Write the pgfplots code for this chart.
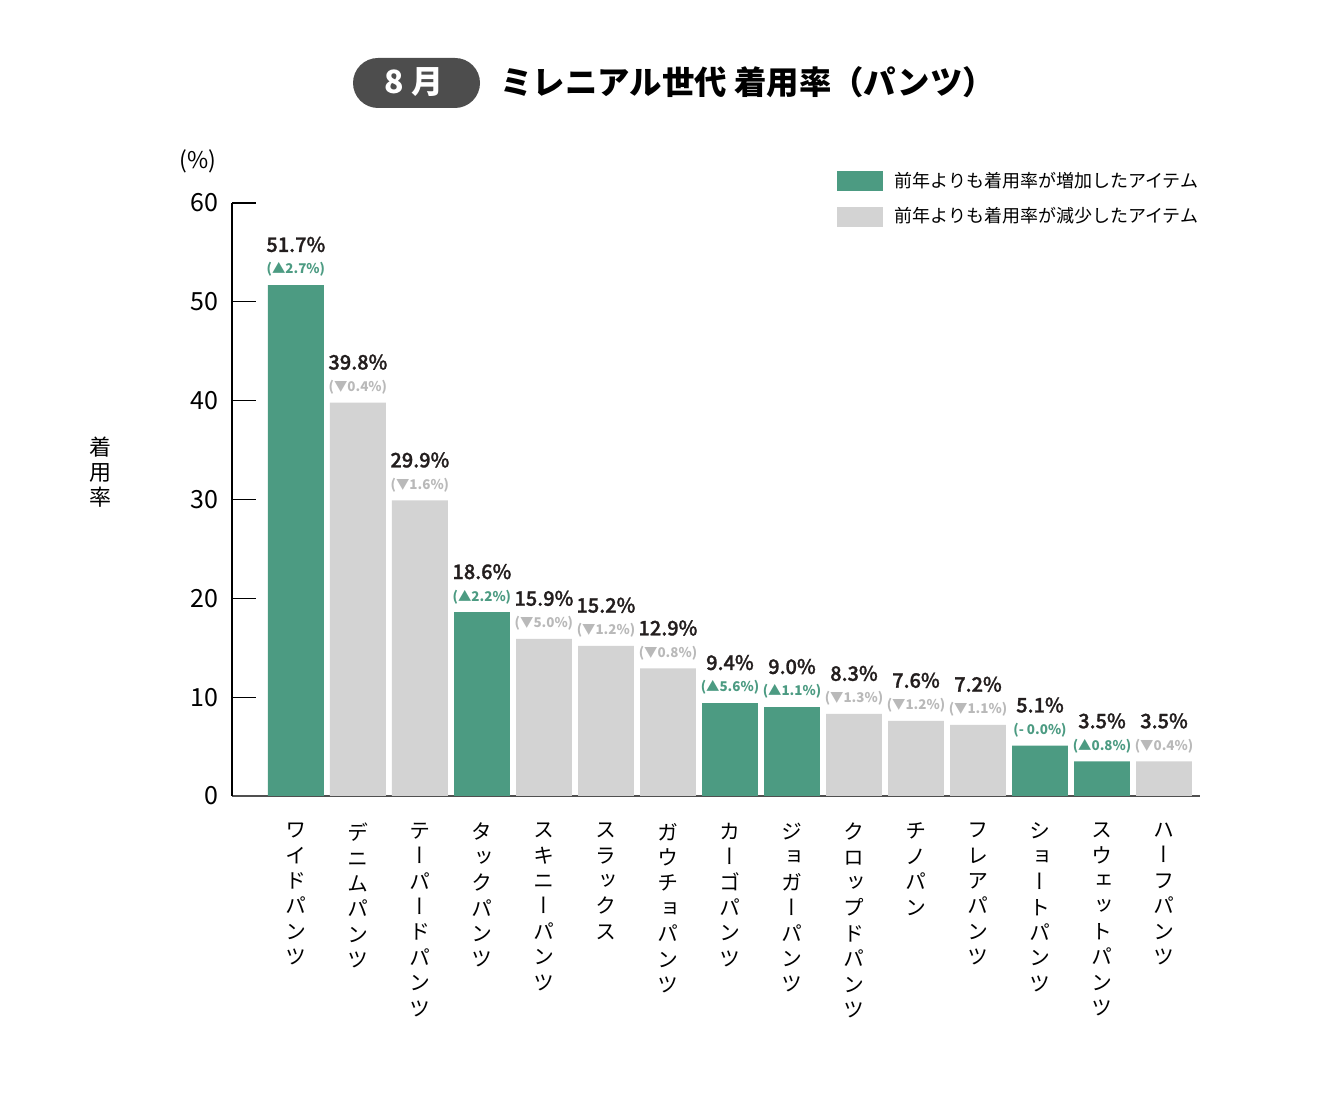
\documentclass[border=0pt]{standalone}
\usepackage{pgfplots}
\pgfplotsset{compat=1.18}
\usepackage{fontspec}
\setmainfont{Noto Sans CJK JP}
\newfontfamily\med[FakeBold=1.3]{Noto Sans CJK JP Medium}
\newfontfamily\vjp[RawFeature=+vert]{Noto Sans CJK JP}
\definecolor{grn}{RGB}{76,155,130}
\definecolor{gry}{RGB}{211,211,211}
\definecolor{gtxt}{RGB}{185,185,185}
\definecolor{titlebox}{RGB}{77,77,77}
\begin{document}
\begin{tikzpicture}
\path[use as bounding box] (0,0) rectangle (664pt,555.5pt);
% title
\fill[titlebox,rounded corners=12.5pt] (176.5pt,501.5pt) rectangle (240pt,526.5pt);
\node[text=white,font=\fontsize{16}{18}\bfseries\selectfont] at (207pt,514.5pt) {8 月};
\node[anchor=west,inner sep=0pt,font=\fontsize{16.2}{18}\bfseries\selectfont] at (250pt,514.5pt) {ミレニアル世代 着用率（パンツ）};
% y label
\node[align=center,font=\fontsize{11}{12.5}\selectfont] at (50pt,319.5pt) {着\\用\\率};
\node[font=\fontsize{11.5}{14}\selectfont] at (99pt,475pt) {(\%)};
\begin{axis}[
  at={(116pt,157.5pt)}, anchor=south west,
  scale only axis, width=484pt, height=296.5pt,
  xmin=-1.03, xmax=14.58, ymin=0, ymax=60,
  axis x line*=bottom, axis y line*=left,
  axis line style={-},
  x axis line style={draw={rgb,255:red,80;green,80;blue,80}, line width=0.8pt},
  y axis line style={draw=black, line width=0.6pt},
  ytick={0,10,...,60},
  tick align=inside,
  major tick length=12pt,
  ytick style={draw=black, line width=0.6pt},
  xtick style={draw=none},
  /pgf/number format/assume math mode=true,
  yticklabel style={font=\fontsize{12.5}{14}\selectfont, xshift=-3.5pt},
  xtick={0,...,14},
  xticklabels={
    {ワ\\イ\\ド\\パ\\ン\\ツ},
    {デ\\ニ\\ム\\パ\\ン\\ツ},
    {テ\\ー\\パ\\ー\\ド\\パ\\ン\\ツ},
    {タ\\ッ\\ク\\パ\\ン\\ツ},
    {ス\\キ\\ニ\\ー\\パ\\ン\\ツ},
    {ス\\ラ\\ッ\\ク\\ス},
    {ガ\\ウ\\チ\\ョ\\パ\\ン\\ツ},
    {カ\\ー\\ゴ\\パ\\ン\\ツ},
    {ジ\\ョ\\ガ\\ー\\パ\\ン\\ツ},
    {ク\\ロ\\ッ\\プ\\ド\\パ\\ン\\ツ},
    {チ\\ノ\\パ\\ン},
    {フ\\レ\\ア\\パ\\ン\\ツ},
    {シ\\ョ\\ー\\ト\\パ\\ン\\ツ},
    {ス\\ウ\\ェ\\ッ\\ト\\パ\\ン\\ツ},
    {ハ\\ー\\フ\\パ\\ン\\ツ}},
  xticklabel style={align=center, anchor=north, yshift=2pt,
    font=\vjp\fontsize{10.5}{12.7}\selectfont},
  ybar, bar width=0.9, bar shift=0pt,
  point meta=explicit symbolic,
  visualization depends on={rawy \as \rawy},
  nodes near coords align={vertical},
  legend style={at={(1.009,1.066)}, anchor=north east, draw=none, fill=none,
    font=\fontsize{9}{10}\selectfont, row sep=4.5pt,
    /tikz/every odd column/.append style={column sep=3.5pt}},
  legend cell align=left,
  legend image code/.code={\fill[#1] (0pt,-5pt) rectangle (23pt,5pt);},
]
\addplot[fill=grn, draw=none,
  nodes near coords={\fontsize{10}{12}\med\selectfont\pgfmathprintnumber[fixed,fixed zerofill,precision=1,assume math mode=true]{\rawy}\%\\[-1pt]{\fontsize{6.7}{8}\bfseries\selectfont\color{grn}(\pgfplotspointmeta\%)}},
  every node near coord/.append style={align=center, anchor=south, yshift=3pt, text={rgb,255:red,35;green,30;blue,30}, inner sep=1pt}]
coordinates {
(0,51.7) [▲2.7]
(3,18.6) [▲2.2]
(7,9.4) [▲5.6]
(8,9.0) [▲1.1]
(12,5.1) [- 0.0]
(13,3.5) [▲0.8]
};
\addlegendentry{前年よりも着用率が増加したアイテム}
\addplot[fill=gry, draw=none,
  nodes near coords={\fontsize{10}{12}\med\selectfont\pgfmathprintnumber[fixed,fixed zerofill,precision=1,assume math mode=true]{\rawy}\%\\[-1pt]{\fontsize{6.7}{8}\bfseries\selectfont\color{gtxt}(\pgfplotspointmeta\%)}},
  every node near coord/.append style={align=center, anchor=south, yshift=3pt, text={rgb,255:red,35;green,30;blue,30}, inner sep=1pt}]
coordinates {
(1,39.8) [▼0.4]
(2,29.9) [▼1.6]
(4,15.9) [▼5.0]
(5,15.2) [▼1.2]
(6,12.9) [▼0.8]
(9,8.3) [▼1.3]
(10,7.6) [▼1.2]
(11,7.2) [▼1.1]
(14,3.5) [▼0.4]
};
\addlegendentry{前年よりも着用率が減少したアイテム}
\end{axis}
\end{tikzpicture}
\end{document}
